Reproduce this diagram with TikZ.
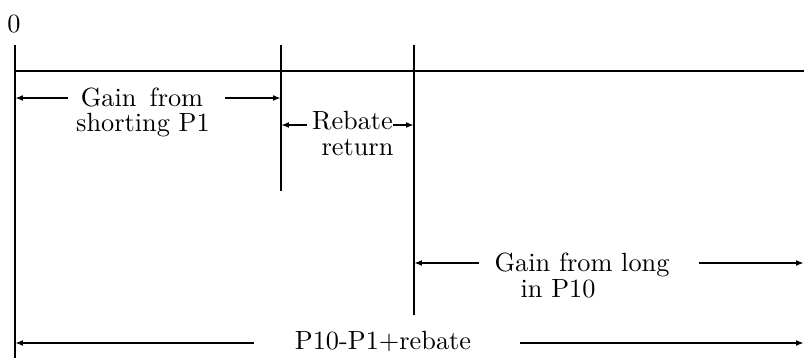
\documentclass[tikz,border=0pt]{standalone}
\usetikzlibrary{arrows.meta}
\begin{document}
\begin{tikzpicture}[x=0.3802pt,y=-0.3802pt,line width=0.75pt,
  tip/.style={-{Latex[length=3pt,width=2.2pt]}},
  lbl/.style={anchor=base,inner sep=0pt}]
\useasboundingbox (0,0) rectangle (804,358);
% frame lines
\coordinate (v1t) at (15,45);  \coordinate (v1b) at (15,358);
\coordinate (v2t) at (281,45); \coordinate (v2b) at (281,191);
\coordinate (v3t) at (414,45); \coordinate (v3b) at (414,315);
\coordinate (hl) at (15,71);   \coordinate (hr) at (804,71);
\draw (v1t) -- (v1b);
\draw (v2t) -- (v2b);
\draw (v3t) -- (v3b);
\draw (hl) -- (hr);
% labels
\node[lbl] (zero) at (14,33) {0};
\node[lbl] (g1a) at (142,107) {\makebox[46.5pt][s]{Gain from}};
\node[lbl] (g1b) at (143,132) {shorting P1};
\node[lbl] (rb1) at (352.5,130) {Rebate};
\node[lbl] (rb2) at (357.5,156) {return};
\node[lbl] (g2a) at (582,272) {Gain from long};
\node[lbl] (g2b) at (558,298) {in P10};
\node[lbl] (tot) at (383,350) {P10-P1+rebate};
% arrow coordinates
\coordinate (a1l) at (15,98);  \coordinate (a1s) at (68,98);
\coordinate (a1e) at (225,98); \coordinate (a1r) at (281,98);
\coordinate (a2l) at (281,125); \coordinate (a2s) at (307,125);
\coordinate (a2e) at (393,125); \coordinate (a2r) at (414,125);
\coordinate (a3l) at (414,263); \coordinate (a3s) at (479,263);
\coordinate (a3e) at (699,263); \coordinate (a3r) at (804,263);
\coordinate (a4l) at (15,343);  \coordinate (a4s) at (254,343);
\coordinate (a4e) at (520,343); \coordinate (a4r) at (804,343);
\draw[tip] (a1s) -- (a1l);
\draw[tip] (a1e) -- (a1r);
\draw[tip] (a2s) -- (a2l);
\draw[tip] (a2e) -- (a2r);
\draw[tip] (a3s) -- (a3l);
\draw[tip] (a3e) -- (a3r);
\draw[tip] (a4s) -- (a4l);
\draw[tip] (a4e) -- (a4r);
\end{tikzpicture}
\end{document}
